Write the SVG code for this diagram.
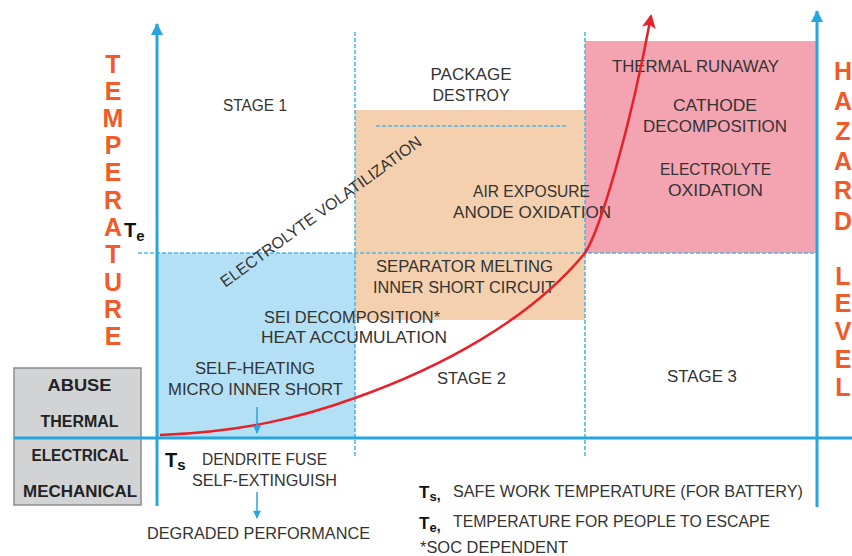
<svg xmlns="http://www.w3.org/2000/svg" width="852" height="556" viewBox="0 0 852 556">
<defs>
<style>
.t{font-family:"Liberation Sans",Arial,sans-serif;font-size:16px;fill:#333;}
.m{text-anchor:middle;}
.big{font-family:"Liberation Sans",Arial,sans-serif;font-size:25px;fill:#f15a29;text-anchor:middle;font-weight:bold;}
.box{font-family:"Liberation Sans",Arial,sans-serif;font-size:16px;font-weight:bold;fill:#222;text-anchor:middle;}
.sym{font-family:"Liberation Sans",Arial,sans-serif;font-weight:bold;fill:#111;}
.dash{stroke:#4cb8e8;stroke-width:1.6;stroke-dasharray:4 2;fill:none;}
.axis{stroke:#27a5df;stroke-width:3;fill:none;}
.small{stroke:#27a5df;stroke-width:1.5;fill:none;}
</style>
<marker id="ab" viewBox="0 0 12 12" refX="11" refY="6" markerWidth="12" markerHeight="13" markerUnits="userSpaceOnUse" orient="auto">
<path d="M0,0 L12,6 L0,12 z" fill="#27a5df"/>
</marker>
<marker id="as" viewBox="0 0 10 10" refX="9" refY="5" markerWidth="9" markerHeight="8" markerUnits="userSpaceOnUse" orient="auto">
<path d="M0,0 L10,5 L0,10 z" fill="#27a5df"/>
</marker>
<marker id="ar" viewBox="0 0 14 14" refX="12" refY="7" markerWidth="14" markerHeight="14" markerUnits="userSpaceOnUse" orient="auto">
<path d="M0,0 L14,7 L0,14 L3,7 z" fill="#e8202a"/>
</marker>
</defs>
<rect width="852" height="556" fill="#ffffff"/>

<g id="regions">
<rect id="stage1-zone" x="157" y="253" width="198" height="185" fill="#b3e0f5"/>
<rect id="stage2-zone" x="355" y="110" width="230" height="210" fill="#f4d0ae"/>
<rect id="stage3-zone" x="585" y="41" width="232" height="212" fill="#f4a3b1"/>
</g>

<g id="guides">
<line class="dash" x1="355" y1="32" x2="355" y2="458"/>
<line class="dash" x1="585" y1="32" x2="585" y2="458"/>
<line class="dash" x1="138" y1="253" x2="817" y2="253"/>
<line class="dash" x1="376" y1="126" x2="566" y2="126"/>
</g>

<g id="abuse-box">
<rect x="14" y="368" width="127" height="137" fill="#d1d3d4" stroke="#8c8c8c" stroke-width="1.5"/>
<text class="box" x="79.5" y="391" textLength="64" lengthAdjust="spacingAndGlyphs">ABUSE</text>
<text class="box" x="79.5" y="427" textLength="78" lengthAdjust="spacingAndGlyphs">THERMAL</text>
<text class="box" x="80" y="461" textLength="97" lengthAdjust="spacingAndGlyphs">ELECTRICAL</text>
<text class="box" x="80" y="497" textLength="114" lengthAdjust="spacingAndGlyphs">MECHANICAL</text>
</g>

<g id="temperature-label">
<text class="big" x="113" y="73">T</text>
<text class="big" x="113" y="100">E</text>
<text class="big" x="113" y="127">M</text>
<text class="big" x="113" y="154">P</text>
<text class="big" x="113" y="181">E</text>
<text class="big" x="113" y="209">R</text>
<text class="big" x="113" y="236">A</text>
<text class="big" x="113" y="263">T</text>
<text class="big" x="113" y="291">U</text>
<text class="big" x="113" y="318">R</text>
<text class="big" x="113" y="345">E</text>
</g>

<g id="hazard-label">
<text class="big" x="843" y="80">H</text>
<text class="big" x="843" y="110">A</text>
<text class="big" x="843" y="140">Z</text>
<text class="big" x="843" y="170">A</text>
<text class="big" x="843" y="199">R</text>
<text class="big" x="843" y="230">D</text>
<text class="big" x="843" y="285">L</text>
<text class="big" x="843" y="312">E</text>
<text class="big" x="843" y="340">V</text>
<text class="big" x="843" y="368">E</text>
<text class="big" x="843" y="396">L</text>
</g>

<g id="te-mark">
<text class="sym" x="124" y="237" font-size="20">T<tspan font-size="15" dy="4">e</tspan></text>
</g>
<g id="ts-mark">
<text class="sym" x="165" y="467" font-size="20">T<tspan font-size="15" dy="3">s</tspan></text>
</g>

<g id="stage1">
<text class="t m" x="255" y="111" textLength="64" lengthAdjust="spacingAndGlyphs">STAGE 1</text>
</g>
<g id="package-destroy">
<text class="t m" x="471" y="80" textLength="81" lengthAdjust="spacingAndGlyphs">PACKAGE</text>
<text class="t m" x="471" y="101" textLength="77" lengthAdjust="spacingAndGlyphs">DESTROY</text>
</g>
<g id="air-exposure">
<text class="t m" x="531.5" y="197" textLength="117" lengthAdjust="spacingAndGlyphs">AIR EXPOSURE</text>
<text class="t m" x="532" y="218" textLength="158" lengthAdjust="spacingAndGlyphs">ANODE OXIDATION</text>
</g>
<g id="separator">
<text class="t m" x="464.5" y="272" textLength="177" lengthAdjust="spacingAndGlyphs">SEPARATOR MELTING</text>
<text class="t m" x="464" y="293" textLength="182" lengthAdjust="spacingAndGlyphs">INNER SHORT CIRCUIT</text>
</g>
<g id="sei">
<text class="t m" x="352" y="323" textLength="176" lengthAdjust="spacingAndGlyphs">SEI DECOMPOSITION*</text>
<text class="t m" x="354" y="343" textLength="186" lengthAdjust="spacingAndGlyphs">HEAT ACCUMULATION</text>
</g>
<g id="self-heating">
<text class="t m" x="255" y="374" textLength="120" lengthAdjust="spacingAndGlyphs">SELF-HEATING</text>
<text class="t m" x="255.5" y="395" textLength="175" lengthAdjust="spacingAndGlyphs">MICRO INNER SHORT</text>
</g>
<g id="stage2">
<text class="t m" x="471.5" y="384" textLength="69" lengthAdjust="spacingAndGlyphs">STAGE 2</text>
</g>
<g id="stage3">
<text class="t m" x="702" y="382" textLength="70" lengthAdjust="spacingAndGlyphs">STAGE 3</text>
</g>
<g id="thermal-runaway">
<text class="t m" x="695.5" y="72" textLength="167" lengthAdjust="spacingAndGlyphs">THERMAL RUNAWAY</text>
</g>
<g id="cathode">
<text class="t m" x="715" y="111" textLength="84" lengthAdjust="spacingAndGlyphs">CATHODE</text>
<text class="t m" x="715" y="132" textLength="144" lengthAdjust="spacingAndGlyphs">DECOMPOSITION</text>
</g>
<g id="electrolyte-oxidation">
<text class="t m" x="715.5" y="175" textLength="111" lengthAdjust="spacingAndGlyphs">ELECTROLYTE</text>
<text class="t m" x="715.5" y="196" textLength="95" lengthAdjust="spacingAndGlyphs">OXIDATION</text>
</g>
<g id="volatilization">
<text class="t m" transform="translate(324,216) rotate(-36)" x="0" y="0" textLength="244" lengthAdjust="spacingAndGlyphs">ELECTROLYTE VOLATILIZATION</text>
</g>
<g id="dendrite">
<text class="t m" x="264.5" y="465" textLength="125" lengthAdjust="spacingAndGlyphs">DENDRITE FUSE</text>
<text class="t m" x="264.5" y="486" textLength="145" lengthAdjust="spacingAndGlyphs">SELF-EXTINGUISH</text>
</g>
<g id="degraded">
<text class="t m" x="258.5" y="539" textLength="223" lengthAdjust="spacingAndGlyphs">DEGRADED PERFORMANCE</text>
</g>

<g id="legend">
<text class="sym" x="419" y="498" font-size="17">T<tspan font-size="13" dy="3">s</tspan><tspan font-size="14" dy="-1">,</tspan></text>
<text class="t" x="453" y="497" textLength="350" lengthAdjust="spacingAndGlyphs">SAFE WORK TEMPERATURE (FOR BATTERY)</text>
<text class="sym" x="419" y="529" font-size="17">T<tspan font-size="13" dy="3">e</tspan><tspan font-size="14" dy="-1">,</tspan></text>
<text class="t" x="453" y="527" textLength="317" lengthAdjust="spacingAndGlyphs">TEMPERATURE FOR PEOPLE TO ESCAPE</text>
<text class="t" x="420" y="553" textLength="148" lengthAdjust="spacingAndGlyphs">*SOC DEPENDENT</text>
</g>

<g id="connectors">
<line class="axis" x1="14" y1="438" x2="852" y2="438"/>
<line class="axis" x1="157" y1="506" x2="157" y2="24" marker-end="url(#ab)"/>
<line class="axis" x1="817" y1="507" x2="817" y2="11" marker-end="url(#ab)"/>
<path d="M160,435 C240,432 300,418 355,398 C440,368 530,320 585,253 C600,230 630,130 651,16" fill="none" stroke="#e8202a" stroke-width="2.5" marker-end="url(#ar)"/>
<line class="small" x1="257" y1="407" x2="257" y2="433" marker-end="url(#as)"/>
<line class="small" x1="257" y1="492" x2="257" y2="518" marker-end="url(#as)"/>
</g>
</svg>
